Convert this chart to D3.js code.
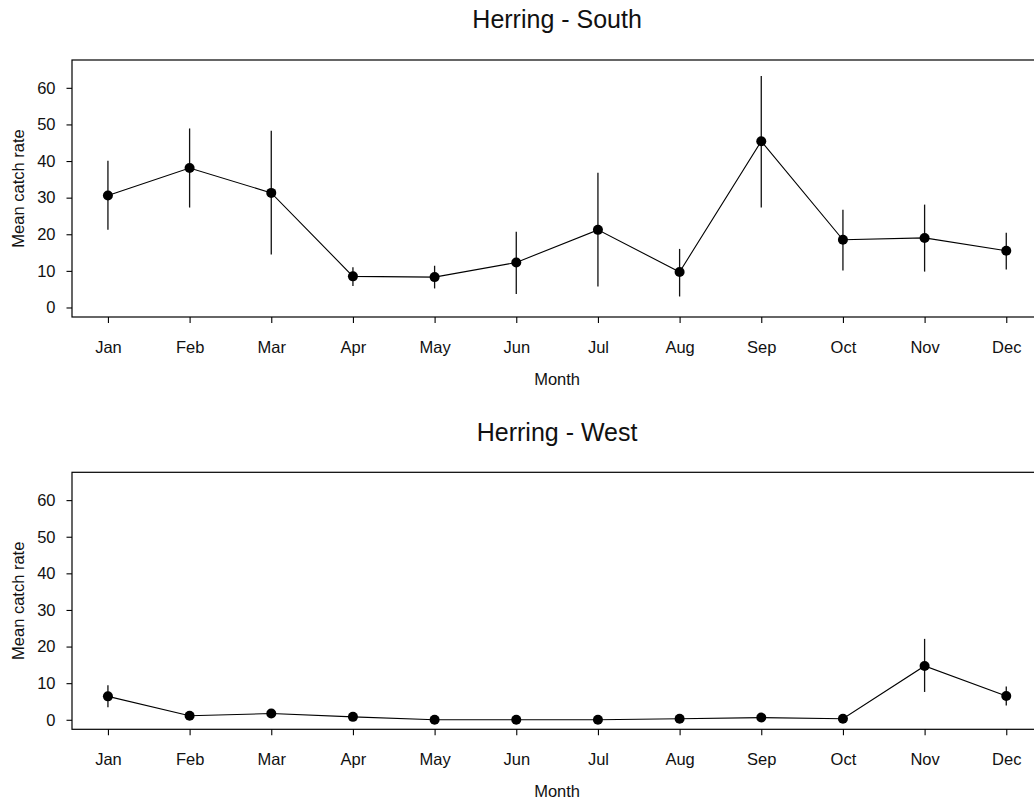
<!DOCTYPE html>
<html>
<head>
<meta charset="utf-8">
<script src="https://cdn.jsdelivr.net/npm/d3@7/dist/d3.min.js"></script>
<style>
  html, body { margin: 0; padding: 0; background: #fff; }
  svg { display: block; }
  text { font-family: "Liberation Sans", Arial, sans-serif; fill: #111; }
</style>
</head>
<body>
<svg id="chart" width="1034" height="802"></svg>
<script>
// Monthly mean catch rates with lower/upper error limits
const months = ["Jan", "Feb", "Mar", "Apr", "May", "Jun", "Jul", "Aug", "Sep", "Oct", "Nov", "Dec"];
const yTicks = [0, 10, 20, 30, 40, 50, 60];

const southMean = [30.6, 38.1, 31.3, 8.5, 8.3, 12.3, 21.2, 9.7, 45.4, 18.5, 19.0, 15.5];
const southLow  = [21.2, 27.3, 14.5, 5.9, 5.2, 3.7, 5.7, 3.0, 27.3, 10.1, 9.8, 10.4];
const southHigh = [40.1, 48.9, 48.3, 11.0, 11.4, 20.7, 36.8, 16.0, 63.2, 26.7, 28.1, 20.4];

const westMean = [6.4, 1.1, 1.7, 0.8, 0.0, 0.0, 0.0, 0.3, 0.6, 0.3, 14.7, 6.5];
const westLow  = [3.4, 0.5, 1.0, 0.3, 0.0, 0.0, 0.0, 0.0, 0.2, 0.0, 7.6, 3.9];
const westHigh = [9.4, 1.8, 2.5, 1.3, 0.0, 0.0, 0.0, 0.7, 1.0, 0.6, 22.1, 9.1];

const panels = [
  { title: "Herring - South", mean: southMean, low: southLow, high: southHigh, top: 60, bottom: 317, titleY: 27.5 },
  { title: "Herring - West",  mean: westMean,  low: westLow,  high: westHigh,  top: 472.3, bottom: 729.3, titleY: 441 }
];

const svg = d3.select("#chart");
const left = 72, right = 1042.2;
const fs = 16.5;

// x: month index 1..12 padded by 4% on each side
const x = d3.scaleLinear().domain([1 - 0.44, 12 + 0.44]).range([left, right]);

panels.forEach(p => {
  const g = svg.append("g");
  // y: 0..65 padded by 4%
  const y = d3.scaleLinear().domain([0 - 2.6, 65 + 2.6]).range([p.bottom, p.top]);

  // plot box
  g.append("rect")
    .attr("x", left).attr("y", p.top)
    .attr("width", right - left).attr("height", p.bottom - p.top)
    .attr("fill", "none").attr("stroke", "#000").attr("stroke-width", 1.2);

  // y axis
  const yAxis = d3.axisLeft(y).tickValues(yTicks).tickSize(5.5).tickPadding(11).tickFormat(d3.format("d"));
  const ya = g.append("g").attr("transform", `translate(${left},0)`).call(yAxis);
  ya.select(".domain").remove();
  ya.selectAll("line").attr("stroke", "#000").attr("stroke-width", 1.1);
  ya.selectAll("text").style("font-size", fs + "px").style("font-family", '"Liberation Sans", Arial, sans-serif').attr("fill", "#111");

  // x axis
  const xAxis = d3.axisBottom(x).tickValues(d3.range(1, 13)).tickSize(6).tickPadding(18)
    .tickFormat(d => months[d - 1]);
  const xa = g.append("g").attr("transform", `translate(0,${p.bottom})`).call(xAxis);
  xa.select(".domain").remove();
  xa.selectAll("line").attr("stroke", "#000").attr("stroke-width", 1.1);
  xa.selectAll("text").style("font-size", fs + "px").style("font-family", '"Liberation Sans", Arial, sans-serif').attr("fill", "#111");

  // titles and axis labels
  g.append("text").attr("x", (left + right) / 2).attr("y", p.titleY)
    .attr("text-anchor", "middle").style("font-size", "25px").text(p.title);
  g.append("text").attr("x", (left + right) / 2).attr("y", p.bottom + 68)
    .attr("text-anchor", "middle").style("font-size", fs + "px").text("Month");
  g.append("text")
    .attr("transform", `translate(24,${(p.top + p.bottom) / 2}) rotate(-90)`)
    .attr("text-anchor", "middle").style("font-size", fs + "px").text("Mean catch rate");

  const idx = d3.range(12);

  // error bars
  g.selectAll(".err").data(idx).join("line")
    .attr("x1", i => x(i + 1)).attr("x2", i => x(i + 1))
    .attr("y1", i => y(p.low[i])).attr("y2", i => y(p.high[i]))
    .attr("stroke", "#111").attr("stroke-width", 1.3);

  // connecting line
  const line = d3.line().x(i => x(i + 1)).y(i => y(p.mean[i]));
  g.append("path").datum(idx).attr("d", line)
    .attr("fill", "none").attr("stroke", "#000").attr("stroke-width", 1.1);

  // points
  g.selectAll(".pt").data(idx).join("circle")
    .attr("cx", i => x(i + 1)).attr("cy", i => y(p.mean[i]))
    .attr("r", 5).attr("fill", "#000");
});
</script>
</body>
</html>
